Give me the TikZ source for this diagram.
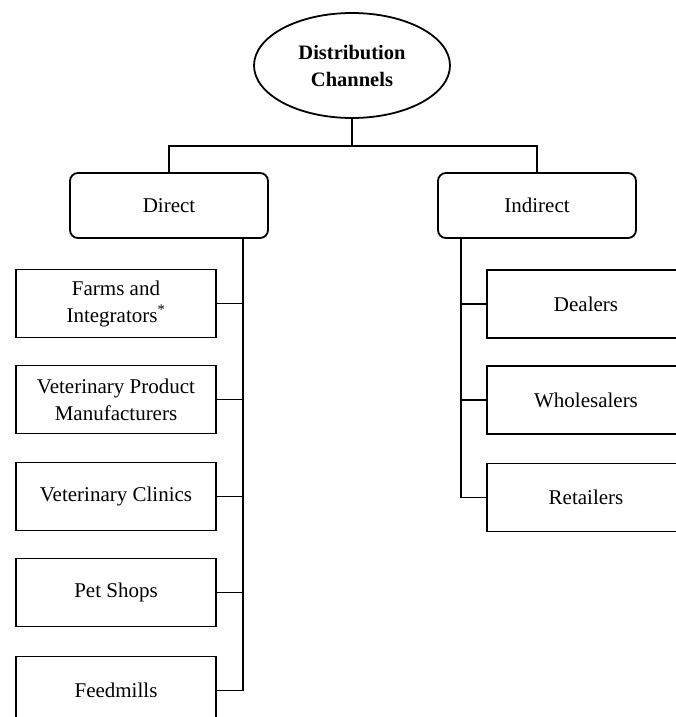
\documentclass[tikz,border=0pt]{standalone}
\usepackage{fontspec}
\setmainfont{Liberation Serif}
\usetikzlibrary{shapes.geometric}
\begin{document}
\begin{tikzpicture}[x=1pt,y=-1pt,
  every node/.style={font=\fontsize{21}{27}\selectfont, inner sep=0pt, align=center},
  link/.style={draw, line width=1.8pt},
  channel/.style={draw, line width=1.8pt, rounded corners=8pt, minimum width=198pt, minimum height=65pt},
  outlet/.style={draw, line width=1.8pt, minimum width=200pt, minimum height=68pt},
  root/.style={draw, ellipse, line width=1.8pt, minimum width=196pt, minimum height=105pt, font=\bfseries\fontsize{20.5}{27}\selectfont}]
\useasboundingbox (0,0) rectangle (676,717);
\clip (0,0) rectangle (676,717);
\fill[white] (0,0) rectangle (676,717);

% top of the hierarchy
\node[root] (dist) at (352,65.5) {Distribution\\Channels};
\node[channel] (direct) at (169,205.5) {Direct};
\node[channel] (indirect) at (537,205.5) {Indirect};

% direct outlets
\node[outlet] (farms) at (116,303.5) {Farms and\\Integrators\textsuperscript{*}};
\node[outlet] (vetprod) at (116,399.5) {Veterinary Product\\Manufacturers};
\node[outlet] (clinics) at (116,496.5) {Veterinary Clinics};
\node[outlet] (pets) at (116,592.5) {Pet Shops};
\node[outlet] (feed) at (116,690.5) {Feedmills};

% indirect outlets
\node[outlet, minimum width=198pt] (dealers) at (586,304) {Dealers};
\node[outlet, minimum width=198pt] (whole) at (586,400) {Wholesalers};
\node[outlet, minimum width=198pt] (retail) at (586,497.5) {Retailers};

% connectors
\coordinate (split) at (352,146);
\draw[link] (dist.south) -- (split);
\draw[link] (direct.north) |- (split) -| (indirect.north);

\coordinate (dtop) at (243,238);
\draw[link] (dtop) |- (feed.east);
\foreach \n in {farms,vetprod,clinics,pets}
  \draw[link] (\n.east) -- (\n.east -| dtop);

\coordinate (itop) at (461,238);
\draw[link] (itop) |- (retail.west);
\foreach \n in {dealers,whole}
  \draw[link] (\n.west) -- (\n.west -| itop);
\end{tikzpicture}
\end{document}
